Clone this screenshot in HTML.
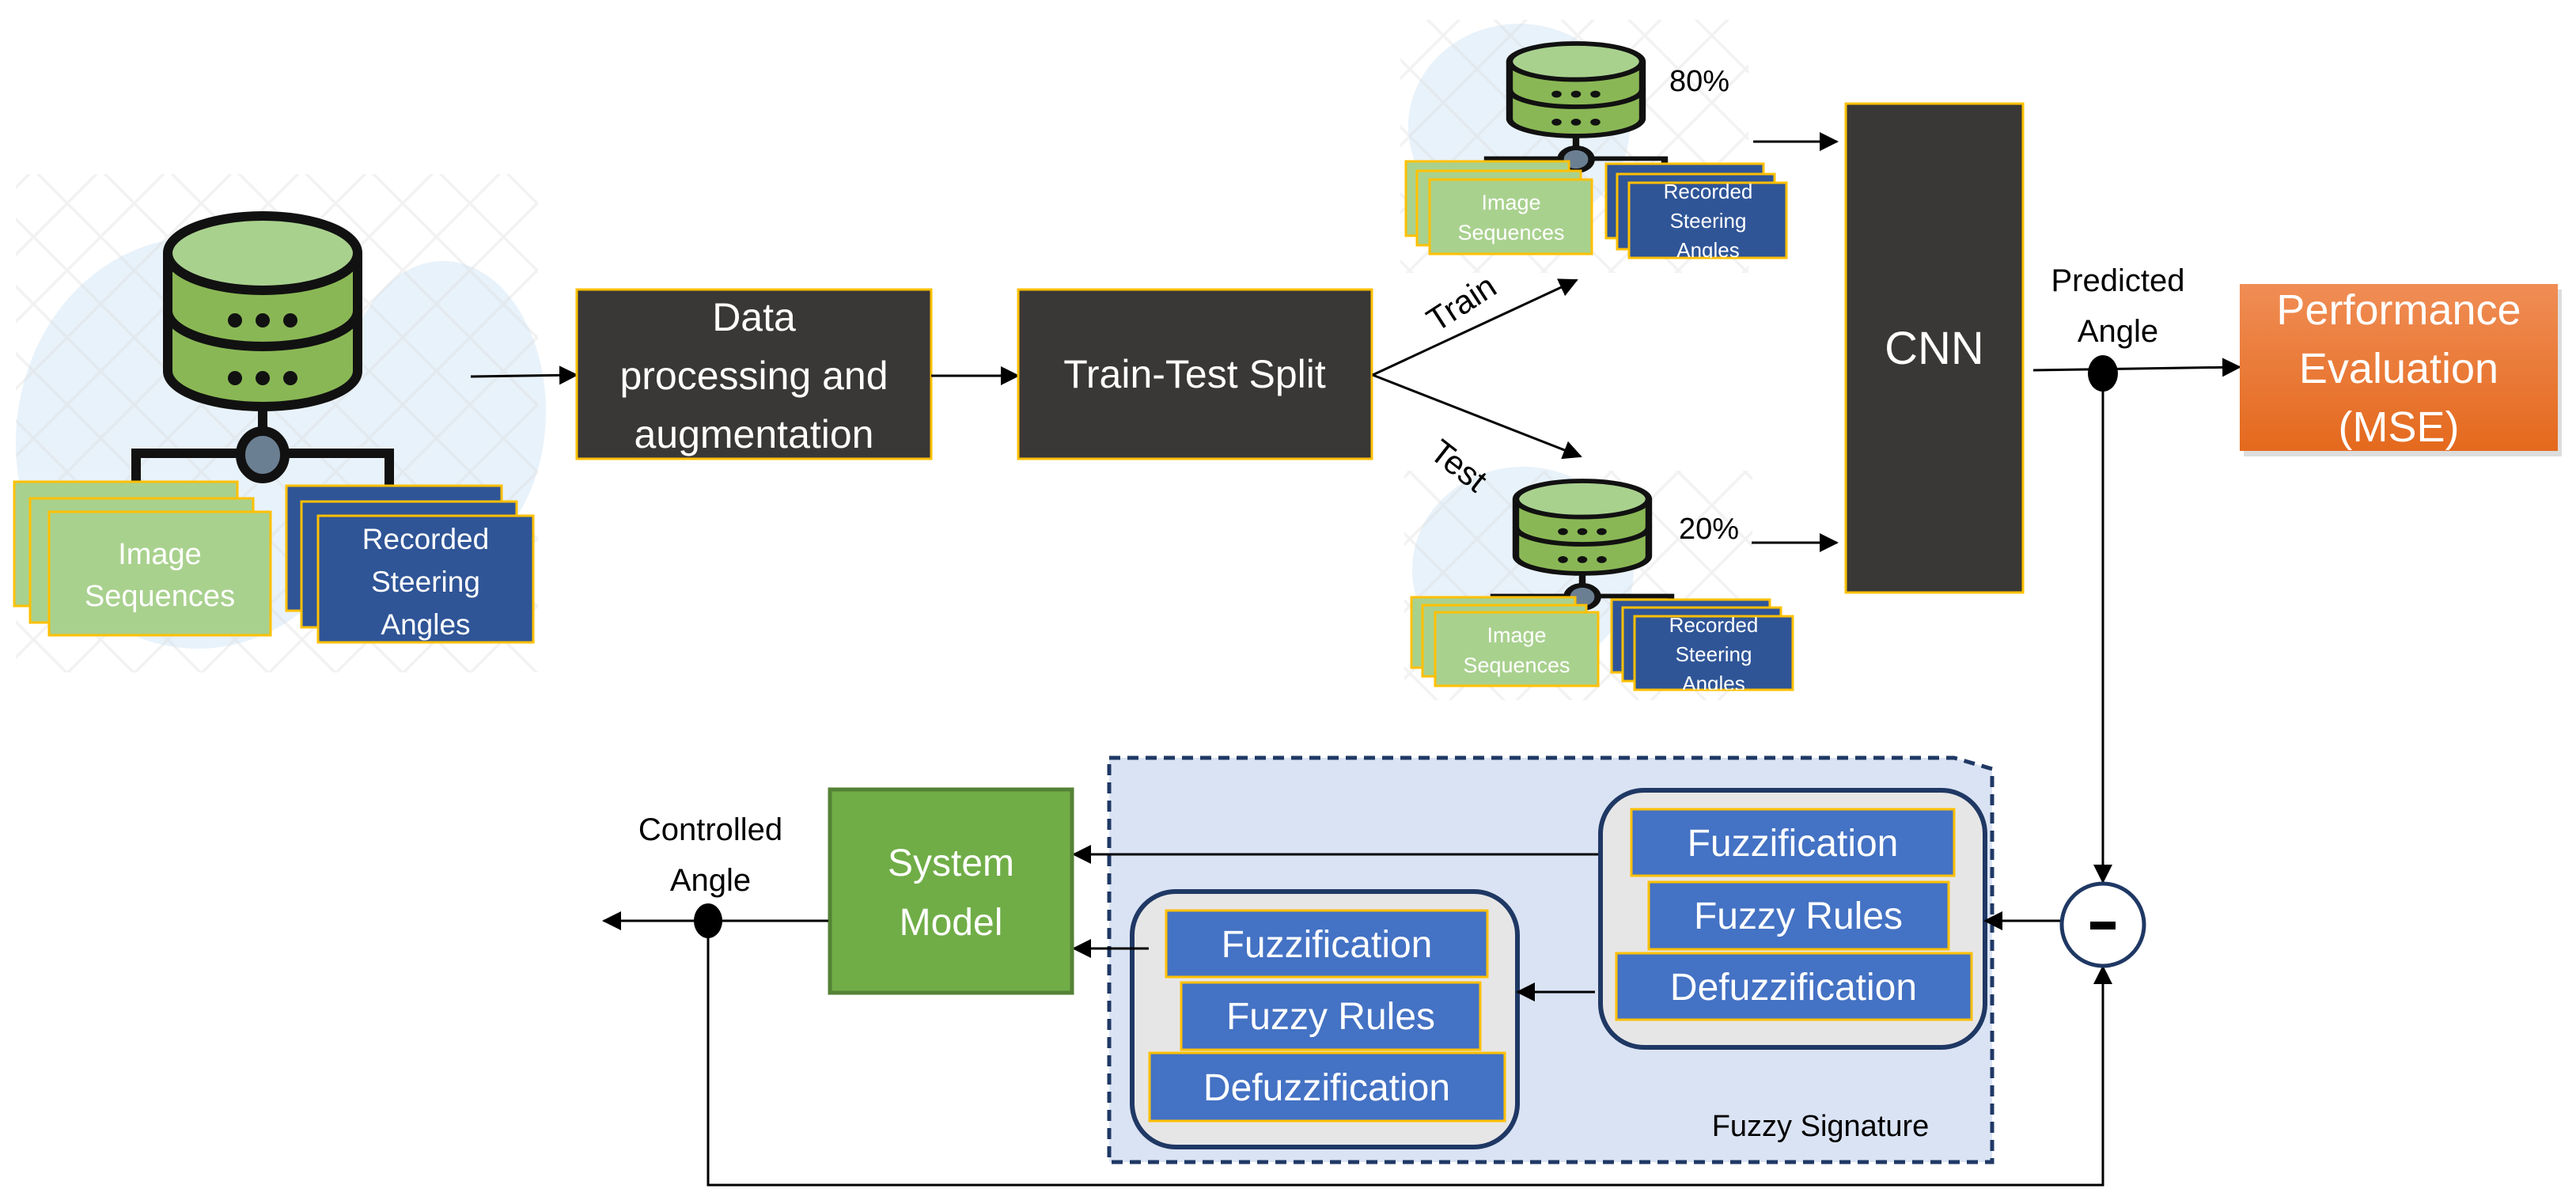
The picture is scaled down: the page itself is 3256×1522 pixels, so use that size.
<!DOCTYPE html>
<html><head><meta charset="utf-8"><style>
html,body{margin:0;padding:0;background:#fff;}
svg{display:block;}
text{font-family:"Liberation Sans Narrow","Liberation Sans",sans-serif;}
</style></head><body>
<svg width="3256" height="1522" viewBox="0 0 3256 1522" xmlns="http://www.w3.org/2000/svg">
<defs>
<pattern id="hatch" width="60" height="60" patternUnits="userSpaceOnUse" patternTransform="rotate(45)">
<rect width="60" height="60" fill="none"/>
<path d="M0 0H60M0 0V60" stroke="#d8d8d8" stroke-width="7" opacity="0.35"/>
</pattern>
<marker id="ab" markerWidth="24" markerHeight="24" refX="22" refY="12" orient="auto" markerUnits="userSpaceOnUse" viewBox="0 0 24 24">
<path d="M0 0L24 12L0 24Z" fill="#000"/>
</marker>
<linearGradient id="og" x1="0" y1="0" x2="0" y2="1">
<stop offset="0" stop-color="#f08d55"/><stop offset="1" stop-color="#e4691d"/>
</linearGradient>
<g id="db">
<path d="M0 47 L0 196 A120 45 0 0 0 240 196 L240 47" fill="#8ab755" stroke="#111" stroke-width="12"/>
<path d="M0 120 A120 45 0 0 0 240 120" fill="none" stroke="#111" stroke-width="12"/>
<ellipse cx="120" cy="47" rx="120" ry="47" fill="#a9d18e" stroke="#111" stroke-width="12"/>
<circle cx="85" cy="132" r="9" fill="#111"/><circle cx="120" cy="132" r="9" fill="#111"/><circle cx="155" cy="132" r="9" fill="#111"/>
<circle cx="85" cy="205" r="9" fill="#111"/><circle cx="120" cy="205" r="9" fill="#111"/><circle cx="155" cy="205" r="9" fill="#111"/>
<line x1="120" y1="240" x2="120" y2="300" stroke="#111" stroke-width="12"/>
<path d="M-40 340 V300 H280 V340" fill="none" stroke="#111" stroke-width="12"/>
<ellipse cx="120" cy="302" rx="28" ry="30" fill="#6b7f92" stroke="#111" stroke-width="12"/>
</g>
</defs>

<!-- left illustration background -->
<ellipse cx="250" cy="560" rx="230" ry="260" fill="#e8f2fa"/>
<ellipse cx="560" cy="520" rx="130" ry="190" fill="#e8f2fa"/>
<rect x="20" y="220" width="660" height="630" fill="url(#hatch)"/>
<use href="#db" transform="translate(212,273)"/>
<rect x="18" y="609" width="282" height="157" fill="#a9d18e" stroke="#ffc000" stroke-width="3"/>
<rect x="38" y="630" width="282" height="157" fill="#a9d18e" stroke="#ffc000" stroke-width="3"/>
<rect x="62" y="647" width="280" height="156" fill="#a9d18e" stroke="#ffc000" stroke-width="3"/>
<text fill="#fff" font-size="38" text-anchor="middle"><tspan x="202" y="713">Image</tspan><tspan x="202" y="766">Sequences</tspan></text>
<rect x="362" y="614" width="272" height="158" fill="#2f5597" stroke="#ffc000" stroke-width="3"/>
<rect x="381" y="634" width="272" height="159" fill="#2f5597" stroke="#ffc000" stroke-width="3"/>
<rect x="402" y="652" width="272" height="160" fill="#2f5597" stroke="#ffc000" stroke-width="3"/>
<text fill="#fff" font-size="37" text-anchor="middle"><tspan x="538" y="694">Recorded</tspan><tspan x="538" y="748">Steering</tspan><tspan x="538" y="802">Angles</tspan></text>

<line x1="595" y1="476" x2="729" y2="474" stroke="#000" stroke-width="3" marker-end="url(#ab)"/>

<rect x="729" y="366" width="448" height="214" fill="#3a3836" stroke="#ffc000" stroke-width="3"/>
<text fill="#fff" font-size="50" text-anchor="middle"><tspan x="953" y="418">Data</tspan><tspan x="953" y="492">processing and</tspan><tspan x="953" y="566">augmentation</tspan></text>
<line x1="1177" y1="475" x2="1287" y2="475" stroke="#000" stroke-width="3" marker-end="url(#ab)"/>
<rect x="1287" y="366" width="447" height="214" fill="#3a3836" stroke="#ffc000" stroke-width="3"/>
<text x="1510" y="490" fill="#fff" font-size="50" text-anchor="middle">Train-Test Split</text>

<!-- top split group -->
<ellipse cx="1920" cy="160" rx="140" ry="130" fill="#e8f2fa"/>
<rect x="1770" y="25" width="440" height="320" fill="url(#hatch)"/>
<use href="#db" transform="translate(1908,55) scale(0.70,0.485)"/>
<rect x="1777" y="204" width="206" height="94" fill="#a9d18e" stroke="#ffc000" stroke-width="3"/>
<rect x="1791" y="216" width="207" height="94" fill="#a9d18e" stroke="#ffc000" stroke-width="3"/>
<rect x="1807" y="227" width="205" height="94" fill="#a9d18e" stroke="#ffc000" stroke-width="3"/>
<text fill="#fff" font-size="27" text-anchor="middle"><tspan x="1910" y="265">Image</tspan><tspan x="1910" y="303">Sequences</tspan></text>
<rect x="2030" y="207" width="199" height="94" fill="#2f5597" stroke="#ffc000" stroke-width="3"/>
<rect x="2044" y="220" width="199" height="95" fill="#2f5597" stroke="#ffc000" stroke-width="3"/>
<rect x="2059" y="231" width="199" height="95" fill="#2f5597" stroke="#ffc000" stroke-width="3"/>
<svg x="2059" y="231" width="199" height="95"><text fill="#fff" font-size="26" text-anchor="middle"><tspan x="100" y="20">Recorded</tspan><tspan x="100" y="57">Steering</tspan><tspan x="100" y="94">Angles</tspan></text></svg>
<text x="2148" y="115" font-size="38" text-anchor="middle">80%</text>
<line x1="2216" y1="179" x2="2322" y2="179" stroke="#000" stroke-width="3" marker-end="url(#ab)"/>

<!-- bottom split group -->
<ellipse cx="1925" cy="720" rx="140" ry="130" fill="#e8f2fa"/>
<rect x="1775" y="595" width="440" height="290" fill="url(#hatch)"/>
<use href="#db" transform="translate(1916,608) scale(0.70,0.485)"/>
<rect x="1784" y="755" width="207" height="89" fill="#a9d18e" stroke="#ffc000" stroke-width="3"/>
<rect x="1798" y="765" width="207" height="90" fill="#a9d18e" stroke="#ffc000" stroke-width="3"/>
<rect x="1814" y="774" width="206" height="93" fill="#a9d18e" stroke="#ffc000" stroke-width="3"/>
<text fill="#fff" font-size="27" text-anchor="middle"><tspan x="1917" y="812">Image</tspan><tspan x="1917" y="850">Sequences</tspan></text>
<rect x="2037" y="758" width="200" height="92" fill="#2f5597" stroke="#ffc000" stroke-width="3"/>
<rect x="2051" y="768" width="200" height="93" fill="#2f5597" stroke="#ffc000" stroke-width="3"/>
<rect x="2066" y="779" width="200" height="93" fill="#2f5597" stroke="#ffc000" stroke-width="3"/>
<svg x="2066" y="779" width="200" height="93"><text fill="#fff" font-size="26" text-anchor="middle"><tspan x="100" y="20">Recorded</tspan><tspan x="100" y="57">Steering</tspan><tspan x="100" y="94">Angles</tspan></text></svg>
<text x="2160" y="681" font-size="38" text-anchor="middle">20%</text>
<line x1="2214" y1="686" x2="2322" y2="686" stroke="#000" stroke-width="3" marker-end="url(#ab)"/>

<line x1="1735" y1="474" x2="1993" y2="354" stroke="#000" stroke-width="3" marker-end="url(#ab)"/>
<line x1="1735" y1="474" x2="1998" y2="577" stroke="#000" stroke-width="3" marker-end="url(#ab)"/>
<text x="1855" y="395" font-size="42" text-anchor="middle" transform="rotate(-33 1855 395)">Train</text>
<text x="1835" y="600" font-size="42" text-anchor="middle" transform="rotate(38 1835 600)">Test</text>

<!-- CNN -->
<rect x="2333" y="131" width="224" height="618" fill="#3a3836" stroke="#ffc000" stroke-width="3"/>
<text x="2445" y="460" fill="#fff" font-size="58" text-anchor="middle">CNN</text>

<text font-size="40" text-anchor="middle"><tspan x="2677" y="368">Predicted</tspan><tspan x="2677" y="432">Angle</tspan></text>
<line x1="2570" y1="468" x2="2831" y2="464" stroke="#000" stroke-width="3" marker-end="url(#ab)"/>
<ellipse cx="2658" cy="472" rx="19" ry="23" fill="#000"/>
<rect x="2836" y="366" width="402" height="211" fill="#bbb" opacity="0.5"/>
<rect x="2831" y="359" width="402" height="211" fill="url(#og)"/>
<text fill="#fff" font-size="54" text-anchor="middle"><tspan x="3032" y="410">Performance</tspan><tspan x="3032" y="484">Evaluation</tspan><tspan x="3032" y="558">(MSE)</tspan></text>

<!-- feedback -->
<line x1="2658" y1="472" x2="2658" y2="1115" stroke="#000" stroke-width="3" marker-end="url(#ab)"/>
<path d="M895 1164 V1498 H2658 V1222" fill="none" stroke="#000" stroke-width="3" marker-end="url(#ab)"/>
<circle cx="2658" cy="1169" r="52" fill="#fff" stroke="#1f3864" stroke-width="5"/>
<rect x="2642" y="1165" width="32" height="10" fill="#000"/>

<!-- fuzzy signature -->
<path d="M1402 958 H2470 L2518 972 V1469 H1402 Z" fill="#dae3f3" stroke="#1f3864" stroke-width="5" stroke-dasharray="14 9"/>
<text x="2301" y="1436" font-size="38" text-anchor="middle">Fuzzy Signature</text>

<rect x="2023" y="999" width="486" height="325" rx="55" fill="#e7e6e6" stroke="#1f3864" stroke-width="6"/>
<rect x="2062" y="1023" width="408" height="84" fill="#4472c4" stroke="#ffc000" stroke-width="3"/>
<text x="2266" y="1082" fill="#fff" font-size="48" text-anchor="middle">Fuzzification</text>
<rect x="2084" y="1115" width="379" height="85" fill="#4472c4" stroke="#ffc000" stroke-width="3"/>
<text x="2273" y="1174" fill="#fff" font-size="48" text-anchor="middle">Fuzzy Rules</text>
<rect x="2043" y="1205" width="449" height="84" fill="#4472c4" stroke="#ffc000" stroke-width="3"/>
<text x="2267" y="1264" fill="#fff" font-size="48" text-anchor="middle">Defuzzification</text>

<rect x="1431" y="1127" width="487" height="323" rx="55" fill="#e7e6e6" stroke="#1f3864" stroke-width="6"/>
<rect x="1474" y="1151" width="406" height="84" fill="#4472c4" stroke="#ffc000" stroke-width="3"/>
<text x="1677" y="1210" fill="#fff" font-size="48" text-anchor="middle">Fuzzification</text>
<rect x="1493" y="1242" width="378" height="85" fill="#4472c4" stroke="#ffc000" stroke-width="3"/>
<text x="1682" y="1301" fill="#fff" font-size="48" text-anchor="middle">Fuzzy Rules</text>
<rect x="1453" y="1331" width="449" height="86" fill="#4472c4" stroke="#ffc000" stroke-width="3"/>
<text x="1677" y="1391" fill="#fff" font-size="48" text-anchor="middle">Defuzzification</text>

<line x1="2604" y1="1164" x2="2509" y2="1164" stroke="#000" stroke-width="3" marker-end="url(#ab)"/>
<line x1="2020" y1="1080" x2="1357" y2="1080" stroke="#000" stroke-width="3" marker-end="url(#ab)"/>
<line x1="1452" y1="1199" x2="1357" y2="1199" stroke="#000" stroke-width="3" marker-end="url(#ab)"/>
<line x1="2016" y1="1254" x2="1918" y2="1254" stroke="#000" stroke-width="3" marker-end="url(#ab)"/>

<!-- system model -->
<rect x="1049" y="998" width="306" height="257" fill="#70ad47" stroke="#548235" stroke-width="5"/>
<text fill="#fff" font-size="48" text-anchor="middle"><tspan x="1202" y="1107">System</tspan><tspan x="1202" y="1182">Model</tspan></text>

<text font-size="40" text-anchor="middle"><tspan x="898" y="1062">Controlled</tspan><tspan x="898" y="1126">Angle</tspan></text>
<line x1="1047" y1="1164" x2="763" y2="1164" stroke="#000" stroke-width="3" marker-end="url(#ab)"/>
<ellipse cx="895" cy="1164" rx="18" ry="22" fill="#000"/>
</svg>
</body></html>
